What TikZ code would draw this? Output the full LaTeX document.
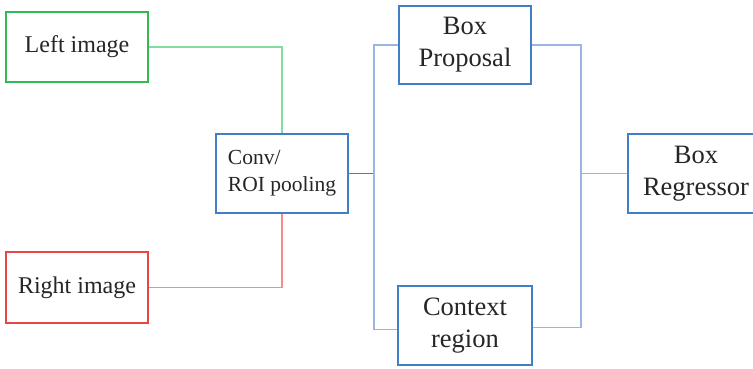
\documentclass[tikz,border=0pt]{standalone}
\usepackage{fontspec}
\setmainfont{Liberation Serif}
\definecolor{gbox}{RGB}{50,185,85}
\definecolor{gline}{RGB}{130,220,160}
\definecolor{rbox}{RGB}{232,70,70}
\definecolor{rline}{RGB}{245,140,140}
\definecolor{bbox}{RGB}{65,125,200}
\definecolor{bline}{RGB}{155,180,228}
\begin{document}
\begin{tikzpicture}[x=1pt,y=-1pt,
  boxnode/.style={draw, line width=2pt, fill=white, inner sep=0pt, align=center, text=black!85},
  bigtext/.style={font=\fontsize{26.5}{32}\selectfont},
  midtext/.style={font=\fontsize{24}{29}\selectfont},
  smalltext/.style={font=\fontsize{21.5}{27}\selectfont},
  conn/.style={line width=1.5pt}]
\clip (0,0) rectangle (753,368);
\fill[white] (0,0) rectangle (753,368);
\node[boxnode, draw=gbox, midtext, minimum width=142pt, minimum height=70pt] (left) at (77,47) {Left image};
\node[boxnode, draw=rbox, midtext, minimum width=142pt, minimum height=71pt] (right) at (77,287.5) {Right image};
\node[boxnode, draw=bbox, smalltext, minimum width=132pt, minimum height=79pt, align=left] (conv) at (282,173.5) {Conv/\\ROI pooling};
\node[boxnode, draw=bbox, bigtext, minimum width=132pt, minimum height=78pt] (prop) at (465,45) {Box\\Proposal};
\node[boxnode, draw=bbox, bigtext, minimum width=134pt, minimum height=79pt] (ctx) at (465,325.5) {Context\\region};
\node[boxnode, draw=bbox, bigtext, minimum width=136pt, minimum height=79pt] (reg) at (696,173.5) {Box\\Regressor};
\coordinate (j1) at (374,173);
\coordinate (j2) at (581,173);
\begin{scope}[on background layer/.style={}]
\end{scope}
\draw[conn, gline] (left.east) -| (conv.north);
\draw[conn, rline] (right.east) -| (conv.south);
\draw[conn, bbox] (conv.east) -- (conv.east -| j1);
\draw[conn, bline] (prop.west) -| ([yshift=-4pt]ctx.west -| j1) -- ([yshift=-4pt]ctx.west);
\draw[conn, bline] (prop.east) -| ([yshift=-2pt]ctx.east -| j2) -- ([yshift=-2pt]ctx.east);
\draw[conn, bline] (reg.west) -- (reg.west -| j2);
\end{tikzpicture}
\end{document}
